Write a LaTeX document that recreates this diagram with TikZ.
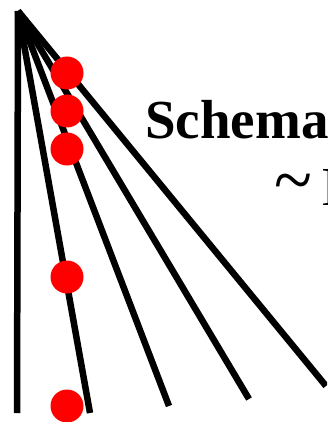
\documentclass[tikz,border=0pt]{standalone}
\usepackage{fontspec}
\setmainfont{Liberation Serif}
\begin{document}
\begin{tikzpicture}[x=1pt,y=-1pt,
  ray/.style={line width=6.5pt,black},
  dot/.style={circle,fill=red,minimum size=33pt,inner sep=0pt},
  txt/.style={inner sep=0pt,anchor=base west,font=\fontsize{55}{60}\selectfont}]
\useasboundingbox (0,0) rectangle (327,422);
\clip (0,0) rectangle (327,422);
\coordinate (apex) at (18,11);
\coordinate (e1) at (17,413);
\coordinate (e2) at (90,413);
\coordinate (e3) at (169,406);
\coordinate (e4) at (249,399);
\coordinate (e5) at (326,386);
\foreach \e in {e1,e2,e3,e4,e5} \draw[ray] (apex) -- (\e);
\node[dot] (d1) at (67,73) {};
\node[dot] (d2) at (67,111) {};
\node[dot] (d3) at (67,149) {};
\node[dot] (d4) at (67,277) {};
\node[dot] (d5) at (67,406) {};
\node[txt,font=\fontsize{55}{60}\selectfont\bfseries] (t1) at (145,139) {Schema};
\node[inner sep=0pt,font=\fontsize{40}{44}\selectfont] (t2a) at (293,190) {\scalebox{1.75}[1.9]{\textasciitilde}};
\node[txt] (t2) at (321,205) {I};
\end{tikzpicture}
\end{document}
